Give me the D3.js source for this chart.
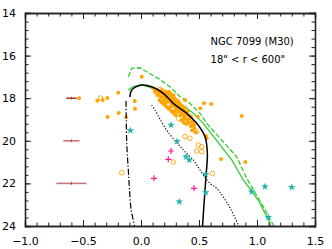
<!DOCTYPE html>
<html>
<head>
<meta charset="utf-8">
<script src="https://cdn.jsdelivr.net/npm/d3@7"></script>
<style>
body { margin: 0; background: #fff; }
text { font-family: "DejaVu Sans", sans-serif; }
</style>
</head>
<body>
<div></div>
<script>
var width = 332;
var height = 249;
var margin = {top: 13, right: 17, bottom: 23, left: 25};

// colour range and magnitude range
var xDomain = [-1.0, 1.5];
var yDomain = [24, 14];
var xTicks = [-1.0, -0.5, 0.0, 0.5, 1.0, 1.5];
var yTicks = [14, 16, 18, 20, 22, 24];

// fiducial / model lines [colour, mag]
var blackLine = [[-0.095, 17.94], [-0.08, 17.62], [0.006, 17.38], [0.092, 17.46], [0.192, 17.77],
	[0.278, 18.24], [0.394, 18.71], [0.48, 19.18], [0.552, 19.81], [0.572, 20.59],
	[0.56, 21.69], [0.546, 22.78], [0.532, 23.87], [0.53, 24.1]];
var dashDotLine = [[-0.129, 18.13], [-0.123, 20.1], [-0.109, 21.4], [-0.1, 22.2],
	[-0.086, 23.2], [-0.058, 23.95], [-0.055, 24.1]];
var dottedLine = [[0.092, 18.32], [0.12, 18.55], [0.22, 19.49], [0.365, 20.43], [0.45, 20.9],
	[0.509, 21.37], [0.595, 22.0], [0.653, 22.23], [0.753, 23.01], [0.839, 23.95], [0.85, 24.1]];
var greenSolid = [[-0.109, 17.62], [-0.066, 17.46], [0.006, 17.36], [0.078, 17.49], [0.222, 17.85],
	[0.336, 18.24], [0.451, 18.71], [0.537, 19.18], [0.782, 20.9], [0.882, 21.84],
	[1.011, 22.78], [1.112, 23.87], [1.12, 24.1]];
var greenDashed = [[-0.109, 16.99], [-0.08, 16.6], [-0.009, 16.57], [0.049, 16.76], [0.149, 17.07],
	[0.25, 17.46], [0.336, 17.93], [0.422, 18.24], [0.509, 18.71], [0.566, 19.18],
	[0.825, 20.75], [0.911, 21.76], [1.054, 23.09], [1.14, 23.95], [1.15, 24.1]];

// stars
var orangeFilled = [[-0.534, 18.0], [-0.377, 18.12], [-0.33, 18.08], [-0.29, 17.99], [-0.287, 18.88],
	[-0.196, 17.74], [-0.192, 18.69], [-0.127, 18.9], [0.006, 16.99], [-0.054, 18.13], [-0.052, 18.49],
	[0.543, 18.24], [0.606, 18.27], [0.868, 18.84], [0.511, 18.47], [0.379, 18.08], [0.32, 18.16],
	[0.489, 18.87], [0.69, 20.85], [0.9, 21.0], [0.56, 19.77], [0.566, 19.88],
	[0.13, 17.62], [0.15, 17.7], [0.17, 17.66], [0.18, 17.75], [0.16, 17.8], [0.2, 17.72], [0.21, 17.85],
	[0.19, 17.9], [0.23, 17.8], [0.24, 17.95], [0.22, 18.0], [0.26, 17.9], [0.27, 18.05], [0.25, 18.1],
	[0.29, 18.0], [0.28, 18.15], [0.3, 18.2], [0.26, 18.22], [0.31, 18.1], [0.32, 18.3], [0.29, 18.32],
	[0.33, 18.22], [0.34, 18.4], [0.31, 18.45], [0.35, 18.35], [0.36, 18.5], [0.33, 18.55], [0.37, 18.6],
	[0.35, 18.65], [0.38, 18.45], [0.39, 18.7], [0.36, 18.75], [0.4, 18.62], [0.41, 18.8], [0.38, 18.85],
	[0.42, 18.95], [0.4, 19.0], [0.43, 18.85], [0.44, 19.1], [0.41, 19.15], [0.45, 19.25], [0.43, 19.3],
	[0.46, 19.4], [0.44, 19.5], [0.24, 17.7], [0.28, 17.85], [0.2, 18.05], [0.23, 18.15], [0.27, 18.35],
	[0.3, 18.5], [0.32, 18.65], [0.34, 18.8], [0.37, 18.95], [0.39, 19.2], [0.17, 17.95], [0.14, 17.85],
	[0.25, 17.77], [0.47, 19.6], [0.16, 18.1], [0.18, 18.2], [0.2, 18.3], [0.22, 18.4], [0.24, 18.5],
	[0.26, 18.6], [0.28, 18.7], [0.3, 18.8], [0.19, 18.15], [0.21, 18.22], [0.25, 18.42], [0.29, 18.6],
	[0.35, 19.05], [0.37, 19.15], [0.11, 17.55], [0.14, 17.6], [0.18, 17.62], [0.21, 17.68], [0.12, 17.7]];
var orangeOpen = [[-0.348, 17.99], [0.164, 17.58], [-0.166, 21.5], [0.278, 21.0], [0.379, 19.8],
	[0.48, 20.48], [0.523, 20.51], [0.615, 21.53], [0.322, 18.94], [0.394, 19.1], [0.451, 19.26],
	[0.48, 19.57], [0.422, 19.88], [0.494, 20.2], [0.523, 20.28], [0.22, 17.9], [0.28, 18.3]];
var tealStars = [[-0.092, 19.52], [0.259, 19.26], [0.31, 20.02], [0.388, 20.75], [0.416, 20.9],
	[0.558, 21.57], [0.558, 22.43], [0.33, 22.86], [0.954, 22.39], [1.069, 22.15], [1.299, 22.18],
	[1.097, 23.59]];
var magentaPlus = [[0.259, 20.48], [0.235, 20.87], [0.112, 21.76], [0.457, 22.23]];

// photometric errors
var errMags = [18, 20, 22];
var errColours = [0.045, 0.07, 0.13];
var errX = -0.6;

var svg = d3.select("div")
	.append("svg")
	.attr("width", width)
	.attr("height", height);

var x = d3.scaleLinear().domain(xDomain).range([margin.left, width - margin.right]);
var y = d3.scaleLinear().domain(yDomain).range([height - margin.bottom, margin.top]);

svg.append("clipPath").attr("id", "clip")
	.append("rect")
	.attr("x", margin.left).attr("y", margin.top)
	.attr("width", width - margin.left - margin.right)
	.attr("height", height - margin.top - margin.bottom);

var plot = svg.append("g").attr("clip-path", "url(#clip)");

var straight = d3.line().x(d => x(d[0])).y(d => y(d[1]));
var smooth = d3.line().x(d => x(d[0])).y(d => y(d[1])).curve(d3.curveCatmullRom);

// error bars
errMags.forEach((m, i) => {
	plot.append("line")
		.attr("x1", x(errX - errColours[i])).attr("x2", x(errX + errColours[i]))
		.attr("y1", y(m)).attr("y2", y(m))
		.attr("stroke", i == 0 ? "#a33" : "#b55")
		.attr("stroke-opacity", i == 0 ? 0.95 : 0.8)
		.attr("stroke-width", 1.6);
	plot.append("line")
		.attr("x1", x(errX)).attr("x2", x(errX))
		.attr("y1", y(m) - 1.5).attr("y2", y(m) + 1.5)
		.attr("stroke", "#a33")
		.attr("stroke-width", 0.8);
});

plot.append("path").datum(greenDashed)
	.attr("d", straight)
	.attr("fill", "none").attr("stroke", "#3c3").attr("stroke-width", 1.3)
	.attr("stroke-dasharray", "5,2");
plot.append("path").datum(greenSolid)
	.attr("d", straight)
	.attr("fill", "none").attr("stroke", "#3c3").attr("stroke-width", 1.3);

// orange points
plot.append("g").selectAll("circle")
	.data(orangeFilled)
	.enter()
	.append("circle")
	.attr("cx", d => x(d[0]))
	.attr("cy", d => y(d[1]))
	.attr("r", 2)
	.attr("fill", "orange");

plot.append("g").selectAll("circle")
	.data(orangeOpen)
	.enter()
	.append("circle")
	.attr("cx", d => x(d[0]))
	.attr("cy", d => y(d[1]))
	.attr("r", 2.3)
	.attr("fill", "none")
	.attr("stroke", "orange")
	.attr("stroke-width", 0.9);

plot.append("path").datum(blackLine)
	.attr("d", smooth)
	.attr("fill", "none").attr("stroke", "#000").attr("stroke-width", 1.5);
plot.append("path").datum(dashDotLine)
	.attr("d", smooth)
	.attr("fill", "none").attr("stroke", "#000").attr("stroke-width", 1.2)
	.attr("stroke-dasharray", "6,2,1.3,2");
plot.append("path").datum(dottedLine)
	.attr("d", smooth)
	.attr("fill", "none").attr("stroke", "#000").attr("stroke-width", 1.2)
	.attr("stroke-dasharray", "1.2,1.8");

plot.append("g").selectAll("path")
	.data(tealStars)
	.enter()
	.append("path")
	.attr("d", d3.symbol().type(d3.symbolStar).size(18))
	.attr("transform", d => "translate(" + x(d[0]) + "," + y(d[1]) + ")")
	.attr("fill", "#20b2aa");

plot.append("g").selectAll("path")
	.data(magentaPlus)
	.enter()
	.append("path")
	.attr("d", "M-3,0H3M0,-3V3")
	.attr("transform", d => "translate(" + x(d[0]) + "," + y(d[1]) + ")")
	.attr("stroke", "#ff1493")
	.attr("stroke-width", 1.2);

// axes, ticks pointing inwards on all four sides
var minorX = d3.range(-1.0, 1.501, 0.1);
var minorY = d3.range(14, 24.001, 0.4);

function addAxis(axis, tr) {
	var g = svg.append("g").attr("transform", tr).call(axis);
	g.select(".domain").attr("stroke-width", 1.3).attr("stroke", "#222");
	g.selectAll(".tick line").attr("stroke", "#222").attr("stroke-width", 1);
	return g;
}

var bottom = addAxis(d3.axisBottom(x).tickValues(xTicks).tickSize(-6).tickPadding(11).tickFormat(d3.format(".1f")),
	"translate(0," + (height - margin.bottom) + ")");
bottom.selectAll("text").attr("font-size", 11).attr("fill", "#000")
	.text(d => d3.format(".1f")(d).replace("-", "\u2212"));
addAxis(d3.axisBottom(x).tickValues(minorX).tickSize(-3.5).tickFormat(""),
	"translate(0," + (height - margin.bottom) + ")");
addAxis(d3.axisTop(x).tickValues(xTicks).tickSize(-6).tickFormat(""), "translate(0," + margin.top + ")");
addAxis(d3.axisTop(x).tickValues(minorX).tickSize(-3.5).tickFormat(""), "translate(0," + margin.top + ")");

var left = addAxis(d3.axisLeft(y).tickValues(yTicks).tickSize(-6).tickPadding(9),
	"translate(" + margin.left + ",0)");
left.selectAll("text").attr("font-size", 11).attr("fill", "#000");
addAxis(d3.axisLeft(y).tickValues(minorY).tickSize(-3.5).tickFormat(""), "translate(" + margin.left + ",0)");
addAxis(d3.axisRight(y).tickValues(yTicks).tickSize(-6).tickFormat(""),
	"translate(" + (width - margin.right) + ",0)");
addAxis(d3.axisRight(y).tickValues(minorY).tickSize(-3.5).tickFormat(""),
	"translate(" + (width - margin.right) + ",0)");

svg.append("text")
	.attr("x", x(0.6)).attr("y", y(15.48))
	.attr("font-size", 10)
	.text("NGC 7099 (M30)");
svg.append("text")
	.attr("x", x(0.6)).attr("y", y(16.35))
	.attr("font-size", 10)
	.text("18\" < r < 600\"");
</script>
</body>
</html>
